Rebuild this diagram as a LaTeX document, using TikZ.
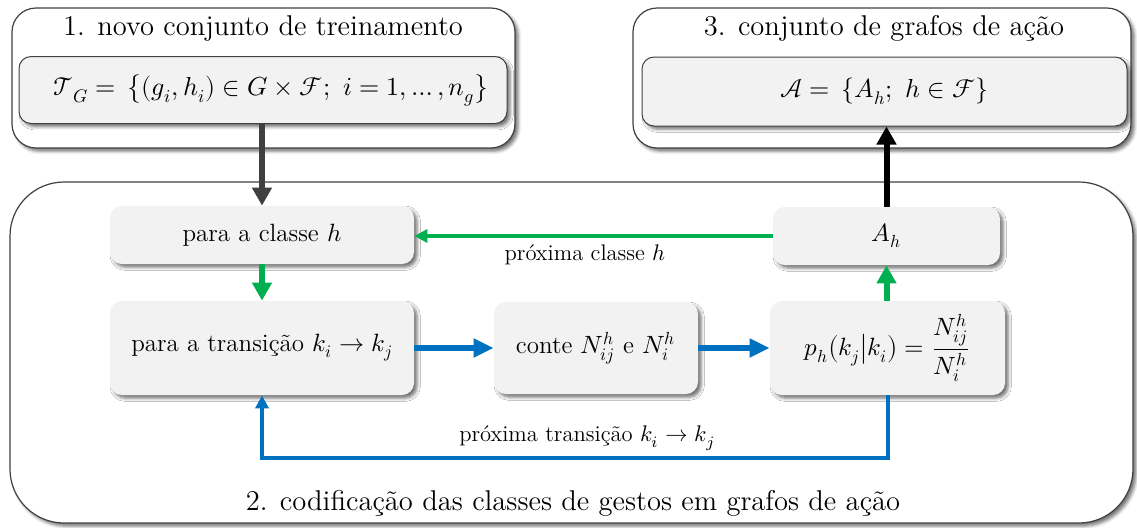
\documentclass[tikz,border=0pt]{standalone}
\usepackage{amsmath}
\usepackage{unicode-math}
\setmathfont{Latin Modern Math}
\usetikzlibrary{arrows.meta,shadows.blur,calc}
\definecolor{boxfill}{HTML}{F2F2F2}
\definecolor{mygreen}{HTML}{00B050}
\definecolor{myblue}{HTML}{0070C0}
\definecolor{mydark}{HTML}{404040}
\tikzset{
  myshadow/.style={blur shadow={shadow xshift=1.6pt, shadow yshift=-1.6pt, shadow blur radius=1.6pt, shadow opacity=55}},
  outerbox/.style={draw=black!75, line width=0.6pt, fill=white, inner sep=0pt, myshadow},
  innerbox/.style={draw=black!75, line width=0.5pt, fill=boxfill, rounded corners=6pt, inner sep=0pt, myshadow, font=\fontsize{13}{16}\selectfont},
  stepbox/.style={fill=boxfill, rounded corners=6pt, inner sep=0pt, align=center, myshadow, font=\fontsize{12.5}{15}\selectfont},
  titletext/.style={font=\fontsize{14.3}{17}\selectfont, inner sep=0pt},
  labeltext/.style={font=\fontsize{11.3}{13}\selectfont, inner sep=0pt},
  bigarrow/.style={line width=3pt, -{Triangle[length=9pt,width=9.5pt]}},
  bluearrow/.style={line width=2.6pt, draw=myblue, -{Triangle[length=10pt,width=9pt]}},
  smallarrow/.style={line width=2pt, -{Triangle[length=6.5pt,width=6.5pt]}},
}
\begin{document}
\begin{tikzpicture}[x=0.5pt,y=-0.5pt]
\useasboundingbox (0,0) rectangle (1137,527);
% outer boxes
\node[outerbox, rounded corners=12pt, minimum width=251.5pt, minimum height=70pt] (box1) at (263.5,78) {};
\node[outerbox, rounded corners=12pt, minimum width=249pt, minimum height=70pt] (box3) at (882,78) {};
\node[outerbox, rounded corners=27pt, minimum width=561.5pt, minimum height=170.5pt] (box2) at (571.5,352.5) {};
% titles
\node[titletext] (t1) at (263,28) {1. novo conjunto de treinamento};
\node[titletext] (t3) at (884,28) {3. conjunto de grafos de ação};
\node[titletext] (t2) at (573,503) {2. codificação das classes de gestos em grafos de ação};
% inner boxes
\node[innerbox, minimum width=244pt, minimum height=33.5pt] (inner1) at (263,90)
  {\hspace*{8pt}$\mathcal{T}_G =\, \bigl\{(g_i,h_i)\in G\times\mathcal{F};\ i=1,\dots,n_g\bigr\}$};
\node[innerbox, minimum width=242.5pt, minimum height=34.5pt] (inner3) at (884.5,91.5)
  {$\mathcal{A} =\, \{A_h;\ h\in\mathcal{F}\}$};
% steps
\node[stepbox, minimum width=152pt, minimum height=29pt] (classe) at (262,235) {para a classe $h$};
\node[stepbox, minimum width=152pt, minimum height=47pt] (trans) at (262,348) {para a transição $k_i\to k_j$};
\node[stepbox, minimum width=102pt, minimum height=46pt] (conte) at (596,348) {conte $N_{ij}^h$ e $N_i^h$};
\node[stepbox, minimum width=117.5pt, minimum height=47pt] (ph) at (887.5,348) {$p_h\bigl(k_j\big|k_i\bigr)=\dfrac{N_{ij}^h}{N_i^h}$};
\node[stepbox, minimum width=113.5pt, minimum height=29pt] (Ah) at (886.5,236) {$A_h$};
% labels
\node[labeltext] (l1) at (585,255) {próxima classe $h$};
\node[labeltext] (l2) at (587,438) {próxima transição $k_i\to k_j$};
% connectors
\draw[bigarrow, draw=mydark] (classe.north |- inner1.south) -- (classe.north);
\draw[bigarrow, draw=black] (Ah.north) -- (Ah.north |- inner3.south);
\draw[bigarrow, draw=mygreen] (classe.south) -- (trans.north);
\draw[bigarrow, draw=mygreen] (Ah.south |- ph.north) -- (Ah.south);
\draw[smallarrow, draw=mygreen] (Ah.west) -- (Ah.west -| classe.east);
\draw[bluearrow] (trans.east) -- (conte.west);
\draw[bluearrow] (conte.east) -- (ph.west);
\coordinate (fb) at (262,458);
\draw[smallarrow, draw=myblue] (ph.south) |- (fb) -- (trans.south);
\end{tikzpicture}
\end{document}
